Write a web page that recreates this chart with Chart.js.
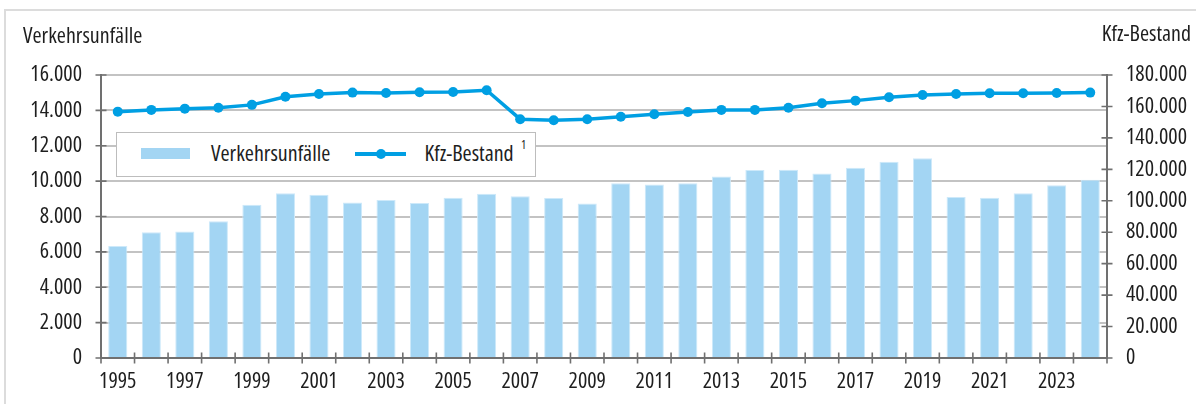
<!DOCTYPE html>
<html lang="de">
<head>
<meta charset="utf-8">
<script src="https://cdn.jsdelivr.net/npm/chart.js@4/dist/chart.umd.min.js"></script>
<style>
  html, body { margin: 0; padding: 0; background: #fff; overflow: hidden; }
  body { width: 1196px; height: 404px; position: relative;
         font-family: 'Open Sans', sans-serif; font-stretch: condensed; color: #1e1e1e; }
  #frame { position: absolute; left: 4px; top: 9px; width: 1400px; height: 600px; border: 2px solid #dcdcdc; box-sizing: border-box; }
  #c { position: absolute; left: 0; top: 0; }
  .t { position: absolute; font-size: 22px; line-height: 22px; white-space: nowrap; font-stretch: condensed; }
  #legend { position: absolute; left: 116px; top: 132px; width: 420px; height: 45px; box-sizing: border-box;
            border: 1.5px solid #bdbdbd; background: #fff; }
  .sw { position: absolute; }
</style>
</head>
<body>
<div id="frame"></div>
<canvas id="c" width="1196" height="404"></canvas>
<div class="t" id="tl" style="left:23px; top:22.5px;"></div>
<div class="t" id="tr" style="right:5px; top:20.5px;"></div>
<div id="legend"></div>
<script>
// ---- data ----
const years = ['1995','1996','1997','1998','1999','2000','2001','2002','2003','2004','2005','2006','2007','2008','2009',
               '2010','2011','2012','2013','2014','2015','2016','2017','2018','2019','2020','2021','2022','2023','2024'];
const accidents = [6330, 7110, 7150, 7730, 8670, 9310, 9235, 8785, 8935, 8765, 9065, 9290, 9140, 9045, 8730,
                   9875, 9815, 9875, 10265, 10625, 10645, 10435, 10755, 11095, 11300, 9105, 9065, 9310, 9760, 10080];
const vehicles = [156700, 157800, 158600, 159200, 161000, 166200, 167900, 168800, 168600, 169000, 169200, 170300, 151900, 151200, 151900,
                  153500, 155000, 156500, 157800, 157800, 159200, 162000, 163700, 165800, 167300, 167900, 168400, 168400, 168600, 168800];
const leftTicks = { min: 0, max: 16000, step: 2000 };
const rightTicks = { min: 0, max: 180000, step: 20000 };
const seriesNames = ['Verkehrsunfälle', 'Kfz-Bestand'];
const footnote = '1';

const FONT = "'Open Sans', sans-serif";
const STRETCH = 'condensed';   // passed through Chart.js font string
const BAR = '#a3d5f3';
const LINE = '#009fe3';
const AXIS = '#707070';
const GRID = '#c3c3c3';
const TXT = '#1e1e1e';

function fmt(v) { return String(v).replace(/\B(?=(\d{3})+(?!\d))/g, '.'); }

document.getElementById('tl').textContent = seriesNames[0];
document.getElementById('tr').textContent = seriesNames[1];

// legend (HTML)
const lg = document.getElementById('legend');
lg.innerHTML =
  '<div class="sw" style="left:24px; top:15px; width:49px; height:11px; background:' + BAR + '"></div>' +
  '<div class="t" style="left:94px; top:7.7px;">' + seriesNames[0] + '</div>' +
  '<div class="sw" style="left:237.5px; top:19px; width:51px; height:3.5px; background:' + LINE + '"></div>' +
  '<div class="sw" style="left:258.5px; top:15.8px; width:10px; height:10px; border-radius:50%; background:' + LINE + '"></div>' +
  '<div class="t" style="left:307.5px; top:7.7px;">' + seriesNames[1] + '</div>' +
  '<div class="t" style="left:404px; top:5.8px; font-size:12px; line-height:12px;">' + footnote + '</div>';

// crossing tick marks
const crossTicks = {
  id: 'crossTicks',
  afterDraw(chart) {
    const ctx = chart.ctx;
    const xs = chart.scales.x, ys = chart.scales.y, y1 = chart.scales.y1;
    const L = 5.5;
    ctx.save();
    ctx.strokeStyle = AXIS;
    ctx.lineWidth = 1.6;
    ctx.beginPath();
    const n = years.length;
    const half = (xs.getPixelForValue(1) - xs.getPixelForValue(0)) / 2;
    for (let i = 0; i <= n; i++) {
      const x = i < n ? xs.getPixelForValue(i) - half : xs.getPixelForValue(n - 1) + half;
      ctx.moveTo(x, xs.top - L); ctx.lineTo(x, xs.top + L);
    }
    ys.ticks.forEach(t => { const y = ys.getPixelForValue(t.value); ctx.moveTo(ys.right - L, y); ctx.lineTo(ys.right + L, y); });
    y1.ticks.forEach(t => { const y = y1.getPixelForValue(t.value); ctx.moveTo(y1.left - L, y); ctx.lineTo(y1.left + L, y); });
    ctx.stroke();
    ctx.restore();
  }
};

const tickFont = { family: FONT, size: 22, weight: STRETCH };

new Chart(document.getElementById('c'), {
  data: {
    labels: years,
    datasets: [
      { type: 'line', label: seriesNames[1], data: vehicles, yAxisID: 'y1', order: 0,
        borderColor: LINE, backgroundColor: LINE, borderWidth: 3.5, pointRadius: 5, pointHoverRadius: 5,
        pointBackgroundColor: LINE, pointBorderWidth: 0, tension: 0 },
      { type: 'bar', label: seriesNames[0], data: accidents, yAxisID: 'y', order: 1,
        backgroundColor: BAR, borderColor: '#cde9fa', borderWidth: 1, borderSkipped: 'bottom',
        categoryPercentage: 1.0, barPercentage: 0.57 }
    ]
  },
  options: {
    responsive: false,
    animation: false,
    events: [],
    layout: { padding: { top: 75, left: 0, right: 0, bottom: 0 } },
    plugins: { legend: { display: false }, tooltip: { enabled: false }, title: { display: false } },
    scales: {
      x: {
        type: 'category',
        offset: true,
        grid: { display: false, drawTicks: false, offset: true },
        border: { display: true, color: AXIS, width: 2 },
        ticks: { autoSkip: false, maxRotation: 0, minRotation: 0, padding: 11, color: TXT,
                 font: tickFont,
                 callback: (v, i) => (i % 2 === 0 ? years[i] : '') },
        afterFit: s => { s.height = 46; }
      },
      y: {
        position: 'left',
        min: leftTicks.min, max: leftTicks.max,
        grid: { color: GRID, lineWidth: 2, drawTicks: false },
        border: { display: true, color: AXIS, width: 2 },
        ticks: { stepSize: leftTicks.step, padding: 19, color: TXT, font: tickFont,
                 callback: v => fmt(v) },
        afterFit: s => { s.width = 101; }
      },
      y1: {
        position: 'right',
        min: rightTicks.min, max: rightTicks.max,
        grid: { display: false, drawTicks: false },
        border: { display: true, color: AXIS, width: 2 },
        ticks: { stepSize: rightTicks.step, padding: 19, color: TXT, font: tickFont,
                 callback: v => fmt(v) },
        afterFit: s => { s.width = 89; }
      }
    }
  },
  plugins: [crossTicks]
});
</script>
</body>
</html>
